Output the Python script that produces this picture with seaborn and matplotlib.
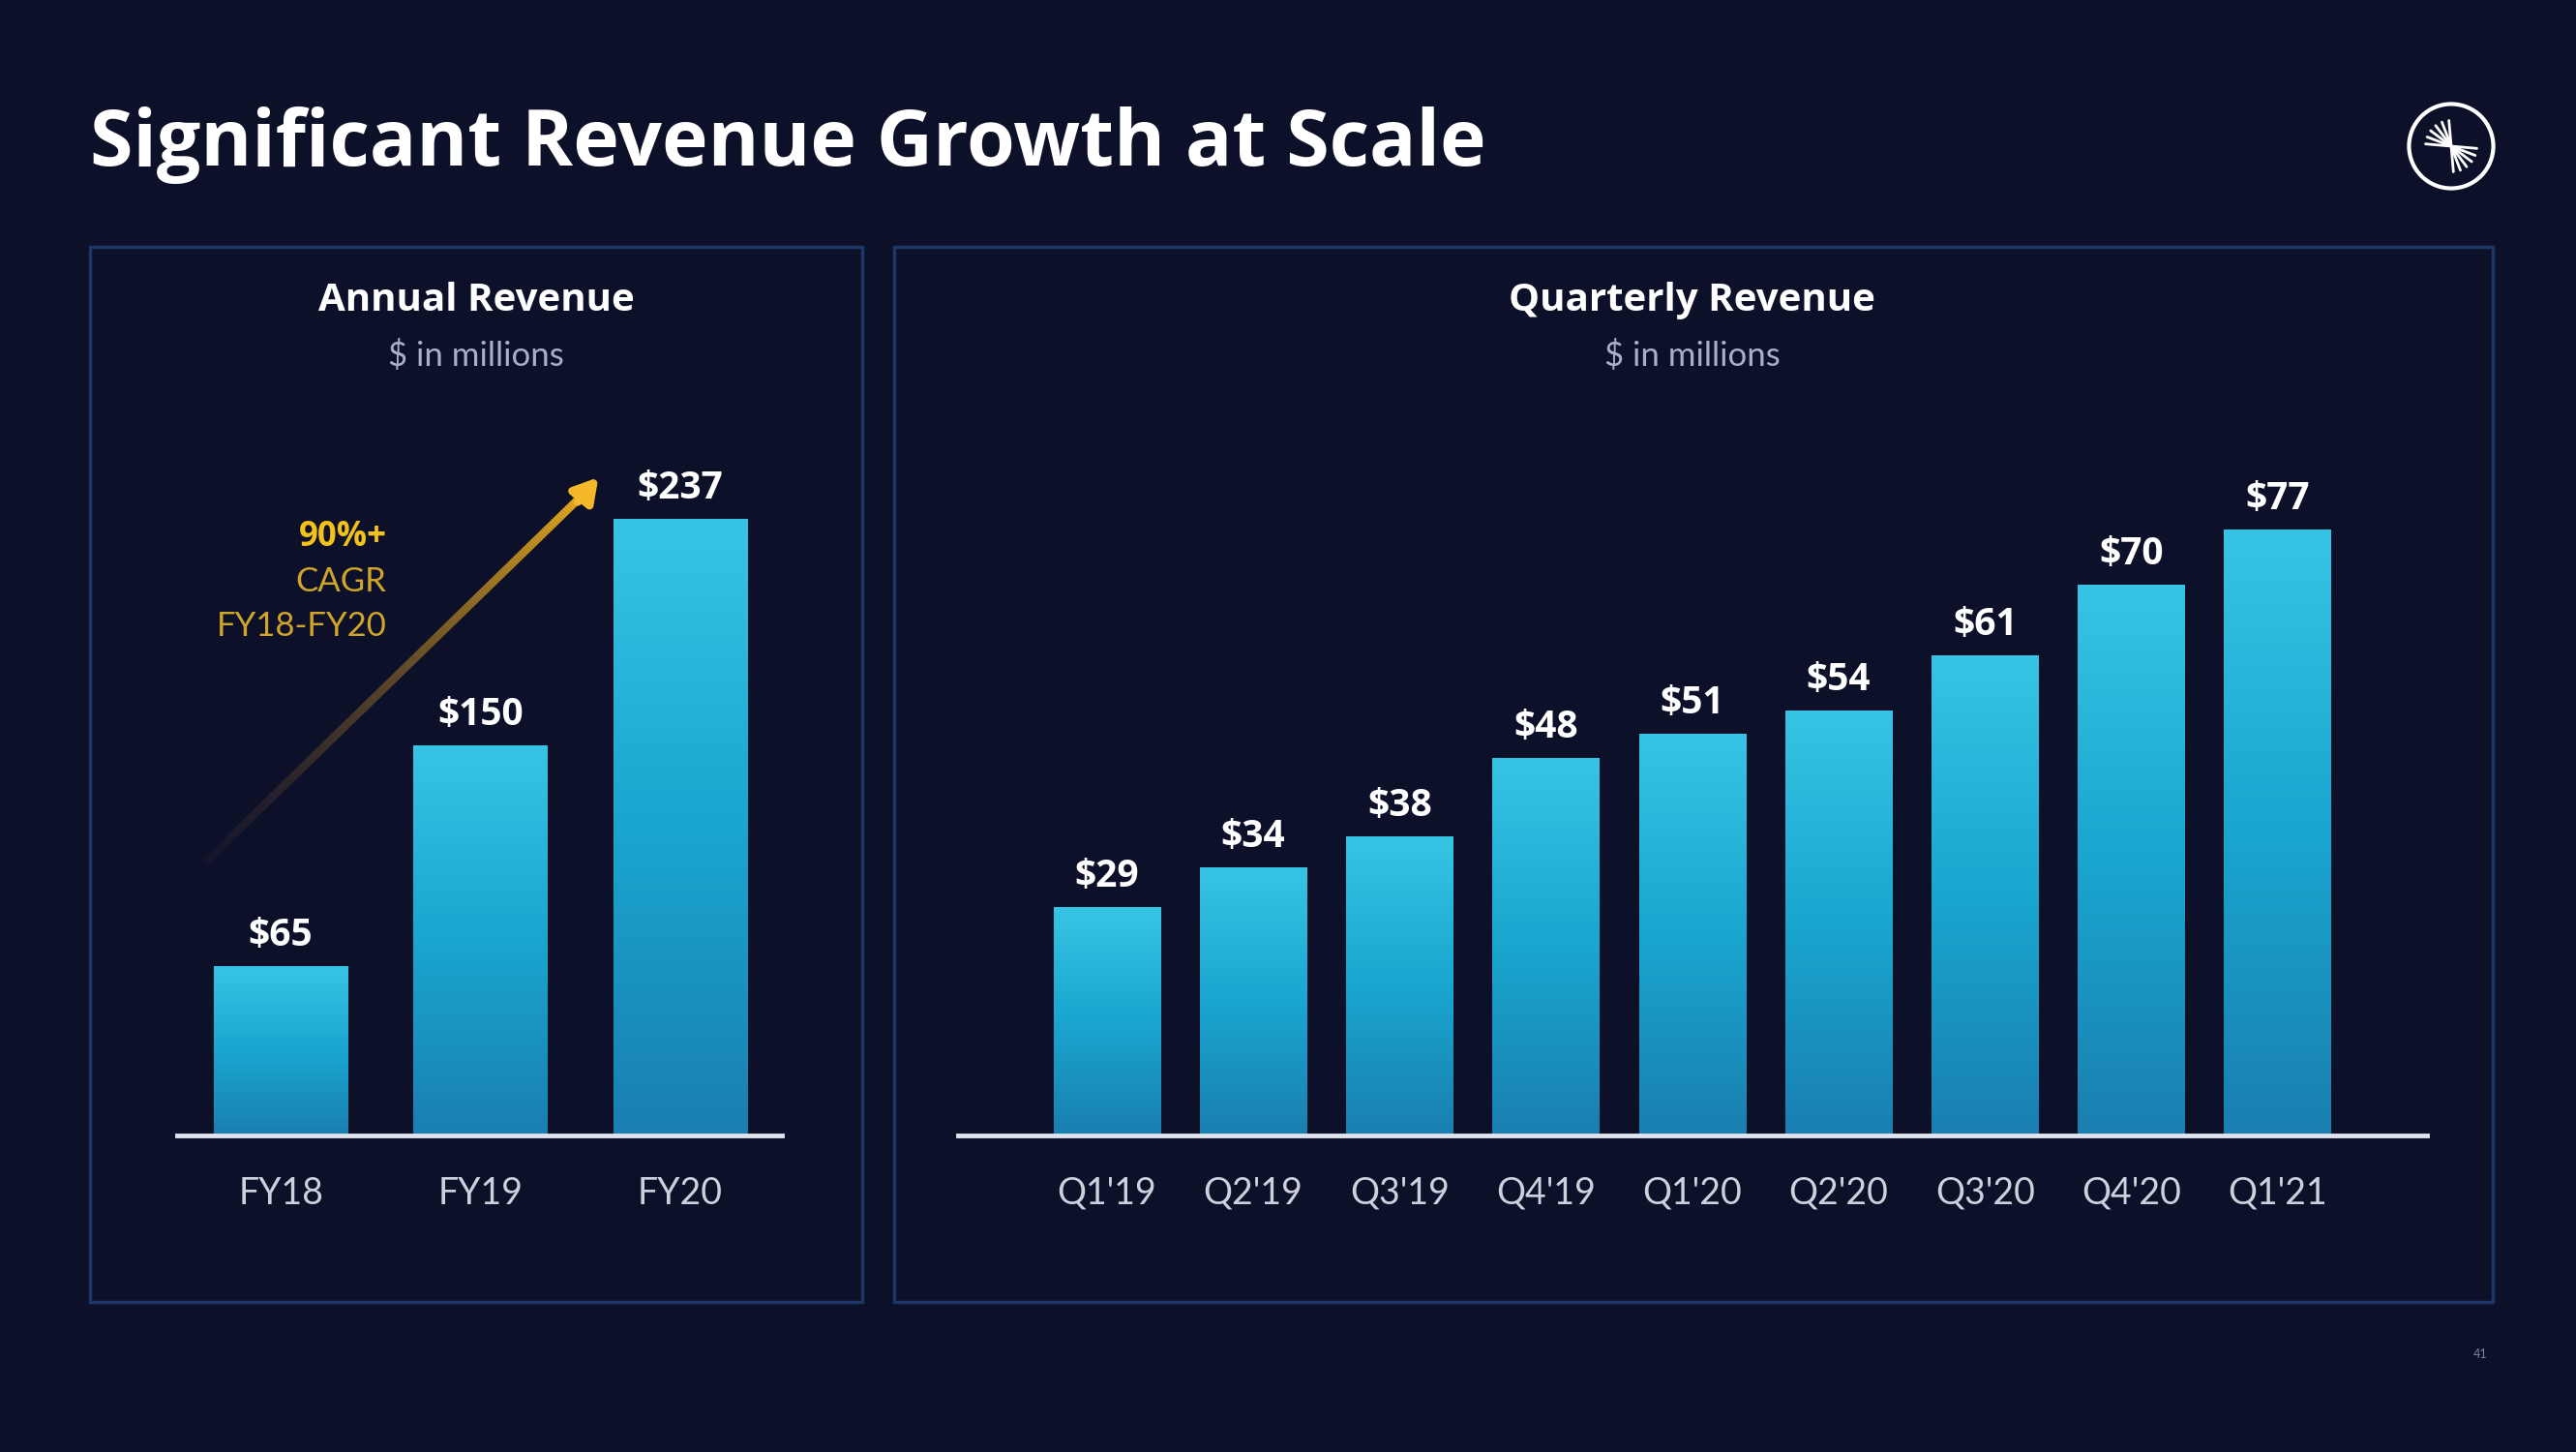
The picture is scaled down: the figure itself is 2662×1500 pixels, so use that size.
import numpy as np
import pandas as pd
import seaborn as sns
import matplotlib.pyplot as plt
from matplotlib.colors import LinearSegmentedColormap
from matplotlib.collections import LineCollection
from matplotlib.patches import Rectangle, Circle

# data
years = ['FY18', 'FY19', 'FY20']
annual_rev = [65, 150, 237]
quarters = ["Q1'19", "Q2'19", "Q3'19", "Q4'19", "Q1'20", "Q2'20", "Q3'20", "Q4'20", "Q1'21"]
quarterly_rev = [29, 34, 38, 48, 51, 54, 61, 70, 77]

BG = '#0d1029'
BORDER = '#1d3668'
BAR_TOP = '#37c4e4'
BAR_BOT = '#1a7fb0'
GOLD = '#f2c21b'
GOLD_DIM = '#cfa52a'
HEAD_FONT = ['Open Sans', 'DejaVu Sans']

sns.set_theme(style='white')
plt.rcParams['font.family'] = ['Lato', 'DejaVu Sans']

fig = plt.figure(figsize=(26.62, 15), dpi=100, facecolor=BG)

bar_cmap = LinearSegmentedColormap.from_list('bar', [BAR_BOT, '#19a6cf', BAR_TOP])


def gradient_bars(ax):
    xl, yl = ax.get_xlim(), ax.get_ylim()
    grad = np.linspace(0, 1, 256).reshape(-1, 1)
    for p in ax.patches:
        x0, y0 = p.get_x(), p.get_y()
        w, h = p.get_width(), p.get_height()
        ax.imshow(grad, extent=[x0, x0 + w, y0, y0 + h], origin='lower',
                  aspect='auto', cmap=bar_cmap, zorder=2)
    ax.set_xlim(xl)
    ax.set_ylim(yl)


def style_axes(ax):
    ax.set_facecolor(BG)
    for s in ['top', 'left', 'right']:
        ax.spines[s].set_visible(False)
    ax.spines['bottom'].set_color('#dfe3ee')
    ax.spines['bottom'].set_linewidth(3.5)
    ax.spines['bottom'].set_zorder(5)
    ax.set_yticks([])
    ax.set_xlabel('')
    ax.set_ylabel('')
    ax.tick_params(axis='x', length=0, pad=30, labelsize=27, labelcolor='#cdd1dd')


# panel frames
fig.add_artist(Rectangle((0.0349, 0.1033), 0.2998, 0.7267, transform=fig.transFigure,
                         fill=False, edgecolor=BORDER, linewidth=2.5))
fig.add_artist(Rectangle((0.3471, 0.1033), 0.6206, 0.7267, transform=fig.transFigure,
                         fill=False, edgecolor=BORDER, linewidth=2.5))

# annual chart
ax1 = fig.add_axes([0.0687, 0.218, 0.2348, 0.469])
annual_df = pd.DataFrame({'year': years, 'rev': annual_rev})
sns.barplot(data=annual_df, x='year', y='rev', hue='year', palette=[BAR_TOP] * 3,
            legend=False, width=0.67, linewidth=0, ax=ax1, zorder=2)
ax1.set_xlim(-0.52, 2.51)
ax1.set_ylim(0, 262)
style_axes(ax1)
for c in ax1.containers:
    ax1.bar_label(c, labels=[f'${v:.0f}' for v in c.datavalues], padding=9,
                  fontsize=28, fontweight='bold', color='white', family=HEAD_FONT)
gradient_bars(ax1)

# CAGR arrow with fading shaft
xs = np.linspace(-0.38, 1.52, 200)
ys = np.linspace(105, 247, 200)
pts = np.array([xs, ys]).T.reshape(-1, 1, 2)
segs = np.concatenate([pts[:-1], pts[1:]], axis=1)
fade = np.linspace(0, 1, len(segs))
cols = [(0.95 * f + 0.18 * (1 - f), 0.70 * f + 0.14 * (1 - f), 0.12 * f + 0.20 * (1 - f), 0.25 + 0.75 * f) for f in fade]
ax1.add_collection(LineCollection(segs, colors=cols, linewidths=6, capstyle='butt', zorder=3))
ax1.annotate('', xy=(1.60, 254), xytext=(1.48, 243),
             arrowprops=dict(arrowstyle='-|>,head_length=1.2,head_width=0.7', color='#f4b82a', lw=6))

ax1.text(0.53, 230, '90%+', ha='right', va='center', fontsize=25, fontweight='bold',
         color=GOLD, family=HEAD_FONT)
ax1.text(0.53, 213, 'CAGR', ha='right', va='center', fontsize=25, color=GOLD_DIM)
ax1.text(0.53, 196, 'FY18-FY20', ha='right', va='center', fontsize=25, color=GOLD_DIM)

# quarterly chart
ax2 = fig.add_axes([0.3719, 0.218, 0.5702, 0.469])
q_df = pd.DataFrame({'quarter': quarters, 'rev': quarterly_rev})
sns.barplot(data=q_df, x='quarter', y='rev', hue='quarter', palette=[BAR_TOP] * len(quarters),
            legend=False, width=0.73, linewidth=0, ax=ax2, zorder=2)
ax2.set_xlim(-1.018, 9.02)
ax2.set_ylim(0, 86.6)
style_axes(ax2)
for c in ax2.containers:
    ax2.bar_label(c, labels=[f'${v:.0f}' for v in c.datavalues], padding=9,
                  fontsize=28, fontweight='bold', color='white', family=HEAD_FONT)
gradient_bars(ax2)

# titles
fig.text(0.035, 0.9, 'Significant Revenue Growth at Scale', ha='left', va='center',
         fontsize=58, fontweight='bold', color='white', family=HEAD_FONT)
fig.text(0.1848, 0.793, 'Annual Revenue', ha='center', va='center',
         fontsize=29, fontweight='bold', color='white', family=HEAD_FONT)
fig.text(0.1848, 0.755, '$ in millions', ha='center', va='center',
         fontsize=25, color='#a9afc4')
fig.text(0.657, 0.793, 'Quarterly Revenue', ha='center', va='center',
         fontsize=29, fontweight='bold', color='white', family=HEAD_FONT)
fig.text(0.657, 0.755, '$ in millions', ha='center', va='center',
         fontsize=25, color='#a9afc4')

# logo
lx, ly = 2533 / 2662, 1 - 151 / 1500
logo_ax = fig.add_axes([lx - 0.02, ly - 0.0355, 0.04, 0.071])
logo_ax.set_xlim(-1.1, 1.1)
logo_ax.set_ylim(-1.1, 1.1)
logo_ax.set_aspect('equal')
logo_ax.axis('off')
logo_ax.add_patch(Circle((0, 0), 0.9, fill=False, edgecolor='white', linewidth=3))
for ang in np.linspace(95, 175, 6):
    a = np.radians(ang)
    logo_ax.plot([0, 0.55 * np.cos(a)], [0, 0.55 * np.sin(a)], color='white', lw=2)
    logo_ax.plot([0, -0.55 * np.cos(a)], [0, -0.55 * np.sin(a)], color='white', lw=2)

fig.text(2563 / 2662, 1 - 1399 / 1500, '41', ha='center', va='center', fontsize=9, color='#7c8296')

fig.savefig('out.png', dpi=100, facecolor=BG)
